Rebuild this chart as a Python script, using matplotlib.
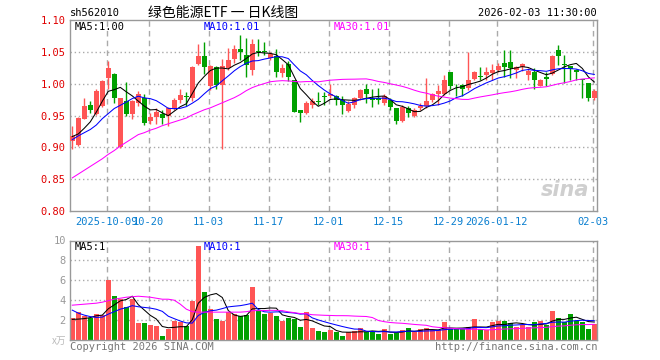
import numpy as np
import pandas as pd
import matplotlib
matplotlib.use("Agg")
import matplotlib.pyplot as plt

plt.rcParams['font.family'] = ['DejaVu Sans Mono', 'Noto Sans CJK SC']

# trading days (weekdays minus exchange holidays)
holidays = ["2025-10-01", "2025-10-02", "2025-10-03", "2025-10-06", "2025-10-07",
            "2025-10-08", "2026-01-01", "2026-01-02"]
dates = [d.strftime("%Y-%m-%d") for d in pd.bdate_range("2025-09-23", "2026-02-03")
         if d.strftime("%Y-%m-%d") not in holidays]

tick_dates = ["2025-10-09", "2025-10-20", "2025-11-03", "2025-11-17", "2025-12-01",
              "2025-12-15", "2025-12-29", "2026-01-12", "2026-02-03"]
tick_labels = ["2025-10-09", "10-20", "11-03", "11-17", "12-01",
               "12-15", "12-29", "2026-01-12", "02-03"]

opens = [0.910, 0.904, 0.945, 0.967, 0.952, 0.965, 1.009, 1.015, 0.900, 0.972,
         0.953, 0.970, 0.978, 0.942, 0.947, 0.953, 0.949, 0.961, 0.974, 0.981,
         0.978, 1.031, 1.044, 0.996, 1.026, 0.998, 1.024, 1.038, 1.055, 1.045,
         1.021, 1.052, 1.051, 1.041, 1.044, 1.017, 1.031, 1.006, 0.958, 0.954,
         0.967, 0.973, 0.980, 0.980, 0.981, 0.974, 0.957, 0.967, 0.977, 0.991,
         0.977, 0.978, 0.970, 0.975, 0.961, 0.941, 0.962, 0.949, 0.961, 0.965,
         0.975, 0.984, 0.984, 1.018, 0.995, 0.998, 0.993, 1.008, 1.012, 1.014,
         1.017, 1.022, 1.032, 1.034, 1.022, 1.026, 1.014, 1.019, 0.997, 1.010,
         1.015, 1.053, 1.031, 1.027, 1.022, 1.007, 1.001, 0.977]
highs = [0.933, 0.947, 0.978, 0.973, 0.991, 1.005, 1.036, 1.016, 0.978, 1.002,
         0.975, 0.988, 0.984, 0.954, 0.961, 0.959, 0.963, 0.977, 0.992, 0.987,
         1.027, 1.062, 1.066, 1.029, 1.028, 1.038, 1.056, 1.061, 1.076, 1.071,
         1.070, 1.070, 1.066, 1.050, 1.055, 1.031, 1.035, 1.006, 0.958, 0.972,
         0.978, 0.987, 0.987, 0.999, 0.982, 0.980, 0.973, 0.979, 0.991, 0.999,
         0.991, 0.993, 0.984, 0.978, 0.961, 0.967, 0.965, 0.961, 0.970, 1.009,
         0.986, 0.998, 1.014, 1.019, 0.999, 0.999, 1.050, 1.020, 1.026, 1.026,
         1.031, 1.032, 1.053, 1.053, 1.028, 1.032, 1.025, 1.024, 1.008, 1.019,
         1.045, 1.060, 1.045, 1.028, 1.023, 1.008, 1.001, 0.991]
lows = [0.897, 0.902, 0.944, 0.954, 0.951, 0.963, 0.991, 0.970, 0.899, 0.949,
        0.944, 0.965, 0.935, 0.936, 0.937, 0.937, 0.933, 0.959, 0.970, 0.965,
        0.972, 1.030, 1.015, 0.990, 0.991, 0.897, 1.022, 1.032, 1.037, 1.010,
        1.013, 1.043, 1.045, 1.037, 1.011, 1.011, 1.004, 0.955, 0.940, 0.952,
        0.961, 0.966, 0.967, 0.977, 0.966, 0.953, 0.955, 0.961, 0.975, 0.970,
        0.963, 0.968, 0.967, 0.959, 0.936, 0.940, 0.947, 0.947, 0.958, 0.962,
        0.971, 0.967, 0.982, 0.992, 0.980, 0.980, 0.990, 1.006, 1.005, 1.005,
        1.006, 1.019, 1.011, 1.009, 1.009, 1.020, 1.005, 0.991, 0.996, 0.996,
        1.013, 1.030, 1.001, 1.005, 1.005, 0.978, 0.972, 0.975]
closes = [0.918, 0.946, 0.965, 0.959, 0.988, 1.004, 1.024, 0.978, 0.977, 0.953,
          0.972, 0.983, 0.939, 0.947, 0.956, 0.946, 0.961, 0.974, 0.982, 0.979,
          1.026, 1.044, 1.026, 1.028, 0.998, 1.027, 1.037, 1.055, 1.049, 1.030,
          1.062, 1.050, 1.050, 1.046, 1.019, 1.024, 1.010, 0.955, 0.954, 0.970,
          0.972, 0.971, 0.979, 0.984, 0.974, 0.966, 0.968, 0.977, 0.990, 0.984,
          0.975, 0.974, 0.980, 0.963, 0.942, 0.963, 0.954, 0.958, 0.965, 0.973,
          0.983, 0.988, 1.006, 0.997, 0.994, 0.991, 1.006, 1.018, 1.011, 1.018,
          1.021, 1.027, 1.026, 1.024, 1.026, 1.031, 1.020, 1.005, 1.006, 1.008,
          1.044, 1.044, 1.030, 1.023, 1.018, 1.005, 0.978, 0.989]
volumes = [2.17, 2.83, 2.40, 2.17, 2.60, 2.50, 6.00, 4.40, 4.17, 3.27,
           4.17, 1.73, 1.73, 1.50, 1.43, 0.40, 1.10, 1.93, 1.83, 1.40,
           3.93, 9.40, 4.83, 3.10, 2.10, 1.93, 2.83, 2.60, 2.40, 2.50,
           5.30, 3.00, 2.60, 2.70, 2.40, 1.93, 2.20, 2.10, 1.30, 2.80,
           1.20, 0.90, 0.85, 1.00, 0.83, 0.40, 0.83, 0.90, 1.17, 0.83,
           0.83, 0.60, 1.07, 0.60, 0.73, 1.00, 1.17, 0.83, 1.07, 1.17,
           1.00, 1.00, 1.80, 1.07, 1.07, 1.07, 1.27, 2.07, 1.07, 1.00,
           1.80, 1.93, 1.93, 1.67, 1.27, 1.50, 1.33, 1.80, 1.93, 1.50,
           2.93, 2.20, 1.80, 2.60, 1.93, 1.83, 1.10, 1.57]

# moving averages at the left edge depend on earlier days
ma5_head = [0.917, 0.921, 0.930, 0.940]
ma10_head = [0.912, 0.918, 0.923, 0.928, 0.935, 0.945, 0.953, 0.961, 0.966]
ma30_head = [0.852, 0.858, 0.864, 0.870, 0.876, 0.882, 0.889, 0.895, 0.902, 0.908,
             0.914, 0.920, 0.923, 0.927, 0.930, 0.934, 0.937, 0.940, 0.943, 0.946,
             0.951, 0.955, 0.959, 0.962, 0.966, 0.970, 0.974, 0.978, 0.983]
vma5_head = [2.07, 2.10, 2.15, 2.25]
vma10_head = [3.00, 2.70, 2.50, 2.35, 2.27, 2.30, 2.60, 2.85, 3.10]
vma30_head = [3.50, 3.55, 3.60, 3.65, 3.70, 3.80, 3.95, 4.10, 4.20, 4.30,
              4.35, 4.40, 4.35, 4.30, 4.20, 4.10, 4.10, 4.00, 3.60, 3.10,
              2.85, 2.80, 2.80, 2.80, 2.80, 2.80, 2.80, 2.80, 2.80]

RED = "#ff5555"
GREEN = "#00a000"
GRID = "#aaaaaa"
FRAME = "#999999"
BLUE_TXT = "#0a7fd0"
LW = 0.75


def moving(values, n, head):
    ma = pd.Series(values).rolling(n).mean().to_numpy()
    ma[:n - 1] = head
    return ma


x = np.arange(len(dates))
o = np.array(opens); h = np.array(highs); l = np.array(lows); c = np.array(closes)
v = np.array(volumes)
up = c >= o
colors = np.where(up, RED, GREEN)

fig = plt.figure(figsize=(6.6, 3.6), dpi=100)
ax = fig.add_axes([70 / 660, 1 - 211 / 360, 527 / 660, 191 / 360])
axv = fig.add_axes([70 / 660, 1 - 340 / 360, 527 / 660, 99.5 / 360])

xlim = (-0.38, 87.45)
tick_x = [dates.index(d) - 0.27 for d in tick_dates]

for a in (ax, axv):
    a.set_xlim(*xlim)
    for s in a.spines.values():
        s.set_color(FRAME)
        s.set_linewidth(1)
    a.tick_params(length=0)
    for tx in tick_x:
        a.axvline(tx, color=GRID, lw=1, ls=(0, (4, 3)), zorder=0)

# price panel
ax.set_ylim(0.80, 1.10)
for yv in [0.85, 0.90, 0.95, 1.00, 1.05]:
    ax.axhline(yv, color=GRID, lw=1, ls=(0, (1, 2)), zorder=0)
ax.vlines(x, l, h, colors=colors, lw=1, zorder=2)
body = np.maximum(np.abs(c - o), 0.0012)
ax.bar(x, body, bottom=np.minimum(o, c), width=0.78, color=colors, lw=0, zorder=3)
ax.plot(x, moving(closes, 5, ma5_head), color="black", lw=LW, zorder=4)
ax.plot(x, moving(closes, 10, ma10_head), color="#0000ff", lw=LW, zorder=4)
ax.plot(x, moving(closes, 30, ma30_head), color="#ff00ff", lw=LW, zorder=4)
ax.set_xlim(*xlim)

ax.set_yticks([0.80, 0.85, 0.90, 0.95, 1.00, 1.05, 1.10])
ax.set_yticklabels(["%.2f" % t for t in ax.get_yticks()], color="#e00000", fontsize=7.5)
ax.set_xticks(tick_x)
ax.set_xticklabels(tick_labels, color=BLUE_TXT, fontsize=7.5)
ax.tick_params(axis="x", pad=4)
ax.tick_params(axis="y", pad=3)

ax.text(0.009, 0.99, "MA5:1.00", transform=ax.transAxes, va="top", fontsize=7.5, color="black")
ax.text(0.254, 0.99, "MA10:1.01", transform=ax.transAxes, va="top", fontsize=7.5, color="#0000ff")
ax.text(0.501, 0.99, "MA30:1.01", transform=ax.transAxes, va="top", fontsize=7.5, color="#ff00ff")
ax.text(0.985, 0.06, "sina", transform=ax.transAxes, ha="right", va="bottom",
        fontsize=15, fontstyle="italic", fontweight="bold", color="#cfcfcf",
        family="DejaVu Sans", zorder=1)

# volume panel
axv.set_ylim(0, 10)
for yv in [2, 4, 6, 8]:
    axv.axhline(yv, color=GRID, lw=1, ls=(0, (1, 2)), zorder=0)
axv.bar(x, v, width=0.83, color=colors, lw=0, zorder=2)
axv.plot(x, moving(volumes, 5, vma5_head), color="black", lw=LW, zorder=4)
axv.plot(x, moving(volumes, 10, vma10_head), color="#0000ff", lw=LW, zorder=4)
axv.plot(x, moving(volumes, 30, vma30_head), color="#ff00ff", lw=LW, zorder=4)
axv.set_xlim(*xlim)
axv.set_xticks([])
axv.set_yticks([2, 4, 6, 8, 10])
axv.set_yticklabels(["2", "4", "6", "8", "10"], color="#999999", fontsize=7.5)
axv.tick_params(axis="y", pad=3)
axv.text(0.009, 0.985, "MA5:1", transform=axv.transAxes, va="top", fontsize=7.5, color="black")
axv.text(0.254, 0.985, "MA10:1", transform=axv.transAxes, va="top", fontsize=7.5, color="#0000ff")
axv.text(0.501, 0.985, "MA30:1", transform=axv.transAxes, va="top", fontsize=7.5, color="#ff00ff")

# header and footer
fig.text(70 / 660, 1 - 13 / 360, "sh562010", fontsize=7.5, va="center", ha="left")
fig.text(223 / 660, 1 - 13 / 360, "绿色能源ETF 一 日K线图", fontsize=10, va="center", ha="center",
         family=["Noto Sans CJK SC", "DejaVu Sans"])
fig.text(597 / 660, 1 - 13 / 360, "2026-02-03 11:30:00", fontsize=7.5, va="center", ha="right")
fig.text(70 / 660, 1 - 347 / 360, "Copyright 2026 SINA.COM", fontsize=7.5, va="center",
         ha="left", color="#777777")
fig.text(597 / 660, 1 - 347 / 360, "http://finance.sina.com.cn", fontsize=7.5, va="center",
         ha="right", color="#777777")
fig.text(66 / 660, 1 - 341 / 360, "x万", fontsize=7, va="center", ha="right", color="#bbbbbb",
         family=["Noto Sans CJK SC", "DejaVu Sans"])

fig.savefig("out.png", dpi=100)
